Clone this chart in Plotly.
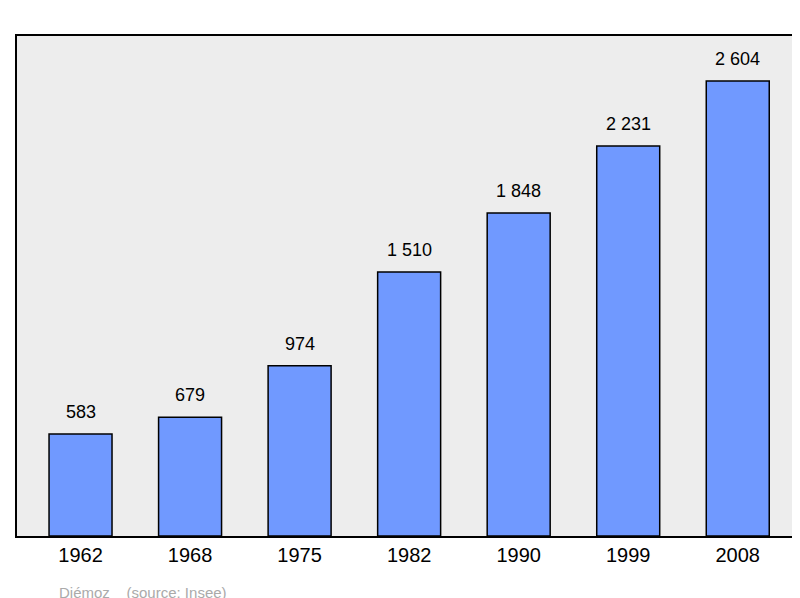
import plotly.graph_objects as go

years = ["1962", "1968", "1975", "1982", "1990", "1999", "2008"]
population = [583, 679, 974, 1510, 1848, 2231, 2604]
labels = ["583", "679", "974", "1 510", "1 848", "2 231", "2 604"]

xs = list(range(len(years)))
fig = go.Figure(go.Bar(
    x=xs, y=population, width=0.575,
    marker=dict(color="#7099ff", line=dict(color="black", width=1.5)),
    cliponaxis=False,
))
for x, y, t in zip(xs, population, labels):
    fig.add_annotation(x=x, y=y, text=t, showarrow=False, yanchor="bottom", yshift=10,
                       font=dict(family="Liberation Sans, Arial", size=18, color="black"))
fig.update_layout(
    width=800, height=598,
    margin=dict(l=9, r=10, t=28, b=70, autoexpand=False),
    paper_bgcolor="white", plot_bgcolor="#ededed",
    showlegend=False,
    font=dict(family="Liberation Sans, Arial"),
)
fig.update_xaxes(range=[-0.58, 6.55], tickvals=xs, ticktext=years,
                 tickfont=dict(size=20, color="black"), showgrid=False, zeroline=False,
                 showline=True, linecolor="black", linewidth=2, mirror=True, ticks="")
fig.update_yaxes(range=[0, 2861], showticklabels=False, showgrid=False, zeroline=False,
                 showline=True, linecolor="black", linewidth=2, mirror=True, ticks="")
fig.add_annotation(text="Diémoz &nbsp;&nbsp;&nbsp;(source: Insee)", xref="paper", yref="paper",
                   x=(49-9)/781, y=-56/500, xanchor="left", yanchor="middle", showarrow=False,
                   font=dict(size=15, color="#aaaaaa"))
fig.write_html("out.html")
